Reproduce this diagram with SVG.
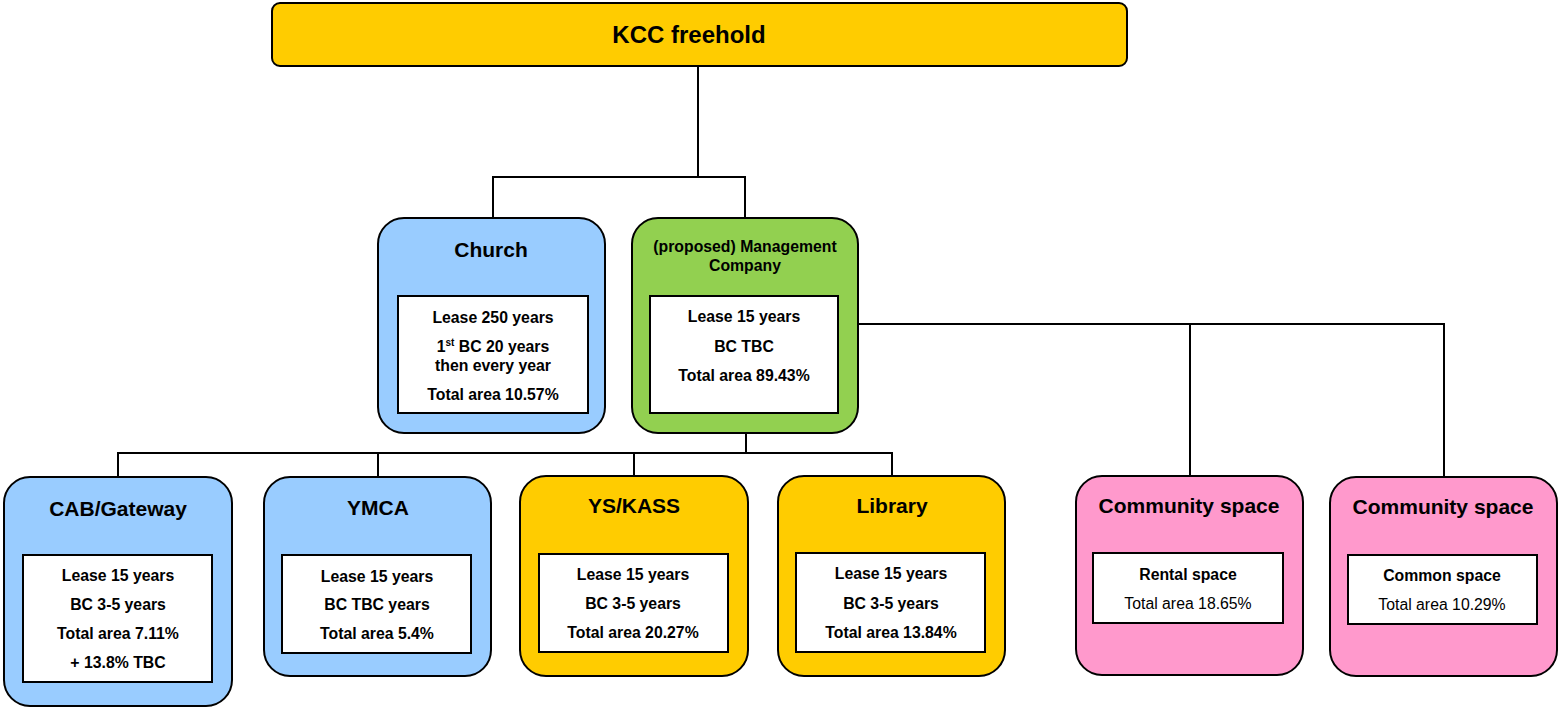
<svg xmlns="http://www.w3.org/2000/svg" width="1558" height="707" viewBox="0 0 1558 707">
<style>
.box{stroke:#000;stroke-width:2}
.blue{fill:#99CCFF}.yellow{fill:#FFCC00}.green{fill:#92D050}.pink{fill:#FF99CC}
.inner{fill:#fff;stroke:#000;stroke-width:2}
text{font-family:"Liberation Sans",Arial,sans-serif;text-anchor:middle;fill:#000}
.title{font-size:21px;font-weight:bold}
.t{font-size:15.8px;font-weight:bold}
.r{font-size:15.8px}
.conn{fill:none;stroke:#000;stroke-width:2}
</style>
<g id="connectors">
<path class="conn" d="M698 66V177M493 218V177H745V218"/>
<path class="conn" d="M746 433V453M118 476V453H892V476M378 453V476M634 453V476"/>
<path class="conn" d="M858 324H1444V476M1190 324V476"/>
</g>
<g id="kcc">
<rect class="box yellow" x="272" y="3" width="855" height="63" rx="8"/>
<text x="689" y="43" style="font-size:24px;font-weight:bold">KCC freehold</text>
</g>
<g id="church">
<rect class="box blue" x="378" y="218" width="227" height="215" rx="26"/>
<text class="title" x="491" y="257">Church</text>
<rect class="inner" x="398" y="296" width="190" height="117"/>
<text class="t" x="493" y="323">Lease 250 years</text>
<text class="t" x="493" y="352">1<tspan style="font-size:10px" dy="-6">st</tspan><tspan dy="6"> BC 20 years</tspan></text>
<text class="t" x="493" y="371">then every year</text>
<text class="t" x="493" y="400">Total area 10.57%</text>
</g>
<g id="management">
<rect class="box green" x="632" y="218" width="226" height="215" rx="26"/>
<text class="t" x="745" y="252">(proposed) Management</text>
<text class="t" x="745" y="271">Company</text>
<rect class="inner" x="650" y="296" width="188" height="117"/>
<text class="t" x="744" y="322">Lease 15 years</text>
<text class="t" x="744" y="352">BC TBC</text>
<text class="t" x="744" y="381">Total area 89.43%</text>
</g>
<g id="cab">
<rect class="box blue" x="4" y="477" width="228" height="229" rx="26"/>
<text class="title" x="118" y="516">CAB/Gateway</text>
<rect class="inner" x="23" y="555" width="189" height="127"/>
<text class="t" x="118" y="581">Lease 15 years</text>
<text class="t" x="118" y="610">BC 3-5 years</text>
<text class="t" x="118" y="639">Total area 7.11%</text>
<text class="t" x="118" y="668">+ 13.8% TBC</text>
</g>
<g id="ymca">
<rect class="box blue" x="264" y="477" width="227" height="199" rx="26"/>
<text class="title" x="378" y="515">YMCA</text>
<rect class="inner" x="282" y="555" width="189" height="98"/>
<text class="t" x="377" y="582">Lease 15 years</text>
<text class="t" x="377" y="610">BC TBC years</text>
<text class="t" x="377" y="639">Total area 5.4%</text>
</g>
<g id="yskass">
<rect class="box yellow" x="520" y="476" width="228" height="200" rx="26"/>
<text class="title" x="634" y="513">YS/KASS</text>
<rect class="inner" x="539" y="554" width="189" height="98"/>
<text class="t" x="633" y="580">Lease 15 years</text>
<text class="t" x="633" y="609">BC 3-5 years</text>
<text class="t" x="633" y="638">Total area 20.27%</text>
</g>
<g id="library">
<rect class="box yellow" x="778" y="476" width="227" height="200" rx="26"/>
<text class="title" x="892" y="513">Library</text>
<rect class="inner" x="796" y="553" width="189" height="99"/>
<text class="t" x="891" y="579">Lease 15 years</text>
<text class="t" x="891" y="609">BC 3-5 years</text>
<text class="t" x="891" y="638">Total area 13.84%</text>
</g>
<g id="community1">
<rect class="box pink" x="1076" y="476" width="227" height="199" rx="26"/>
<text class="title" x="1189" y="513">Community space</text>
<rect class="inner" x="1093" y="553" width="190" height="70"/>
<text class="t" x="1188" y="580">Rental space</text>
<text class="r" x="1188" y="609">Total area 18.65%</text>
</g>
<g id="community2">
<rect class="box pink" x="1330" y="477" width="227" height="199" rx="26"/>
<text class="title" x="1443" y="514">Community space</text>
<rect class="inner" x="1348" y="555" width="189" height="69"/>
<text class="t" x="1442" y="581">Common space</text>
<text class="r" x="1442" y="610">Total area 10.29%</text>
</g>
</svg>
